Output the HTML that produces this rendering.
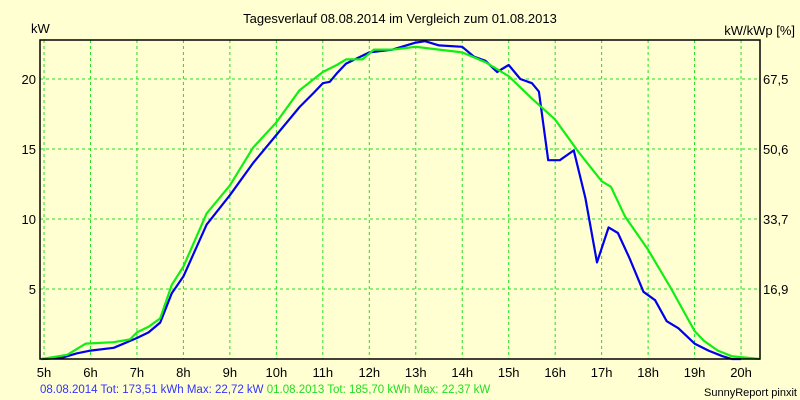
<!DOCTYPE html>
<html><head><meta charset="utf-8"><style>
body{margin:0;background:#FFFFD2;}
svg{display:block;font-family:"Liberation Sans",sans-serif;}
</style></head><body>
<svg id="chart" width="800" height="400" xmlns="http://www.w3.org/2000/svg">
<rect width="800" height="400" fill="#FFFFD2"/>
<text x="400" y="23" text-anchor="middle" font-size="13" fill="#000">Tagesverlauf 08.08.2014 im Vergleich zum 01.08.2013</text>
<text x="31" y="33" font-size="13" fill="#000">kW</text>
<text x="795" y="35" text-anchor="end" font-size="13" fill="#000">kW/kWp [%]</text>
<g id="grid"></g>
<g id="ticks"></g>
<g id="series"></g>
<rect x="40" y="40" width="720" height="319" fill="none" stroke="#000" stroke-width="1.5"/>
<text x="40" y="393" font-size="11.5"><tspan fill="#3333ff">08.08.2014 Tot: 173,51 kWh Max: 22,72 kW </tspan><tspan fill="#22dd22">01.08.2013 Tot: 185,70 kWh Max: 22,37 kW</tspan></text>
<text x="797" y="396" text-anchor="end" font-size="11" fill="#000">SunnyReport pinxit</text>
</svg>
<script>
const hourTicks=[5,6,7,8,9,10,11,12,13,14,15,16,17,18,19,20];
const kwTicks=[5,10,15,20];
const pctLabels=["16,9","33,7","50,6","67,5"];
const blueHours=[4.95,5.4,5.7,6,6.5,7,7.25,7.5,7.75,8,8.5,9,9.5,10,10.5,10.8,11,11.15,11.3,11.5,11.75,12,12.5,13,13.2,13.5,14,14.25,14.5,14.75,15,15.25,15.5,15.65,15.85,16.1,16.4,16.65,16.9,17.15,17.35,17.6,17.9,18.15,18.4,18.65,19,19.3,19.6,19.8,20];
const blueKw=[0,0.1,0.4,0.6,0.8,1.5,1.9,2.6,4.7,5.9,9.6,11.7,14.0,16.0,18.0,19.0,19.7,19.8,20.4,21.1,21.5,21.9,22.1,22.6,22.7,22.4,22.3,21.6,21.3,20.5,21.0,20.0,19.7,19.1,14.2,14.2,14.9,11.5,6.9,9.4,9.0,7.2,4.8,4.2,2.7,2.2,1.1,0.6,0.2,0,0];
const greenHours=[4.95,5.5,5.9,6.5,6.85,7,7.25,7.5,7.75,8,8.5,9,9.5,10,10.5,11,11.3,11.5,11.85,12.1,12.5,13,13.5,14,14.5,15,15.5,16,16.5,17,17.2,17.5,18,18.5,19,19.2,19.5,19.8,20.4];
const greenKw=[0,0.3,1.1,1.2,1.4,1.9,2.3,2.9,5.3,6.6,10.4,12.4,15.1,16.9,19.2,20.5,21.0,21.4,21.4,22.1,22.1,22.3,22.1,21.9,21.2,20.2,18.6,17.1,14.8,12.7,12.3,10.2,7.8,5.0,2.0,1.3,0.6,0.2,0];
const X0=44,PXH=46.47,Y0=359,PXK=14;
function sx(h){return X0+(h-5)*PXH;}
function sy(k){return Y0-k*PXK;}
const NS="http://www.w3.org/2000/svg";
const grid=document.getElementById('grid'),ticks=document.getElementById('ticks'),series=document.getElementById('series');
hourTicks.forEach(h=>{
 const l=document.createElementNS(NS,'line');
 l.setAttribute('x1',sx(h));l.setAttribute('x2',sx(h));l.setAttribute('y1',40);l.setAttribute('y2',359);
 l.setAttribute('stroke','#22dd22');l.setAttribute('stroke-dasharray','3,3');
 
 
 grid.appendChild(l);
 const t=document.createElementNS(NS,'text');
 t.setAttribute('x',sx(h));t.setAttribute('y',377);t.setAttribute('text-anchor','middle');t.setAttribute('font-size','13');
 t.textContent=h+'h';
 
 
 ticks.appendChild(t);
});
kwTicks.forEach((k,i)=>{
 const l=document.createElementNS(NS,'line');
 l.setAttribute('x1',40);l.setAttribute('x2',760);l.setAttribute('y1',sy(k));l.setAttribute('y2',sy(k));
 l.setAttribute('stroke','#22dd22');l.setAttribute('stroke-dasharray','3,3');
 
 
 grid.appendChild(l);
 const t=document.createElementNS(NS,'text');
 t.setAttribute('x',36);t.setAttribute('y',sy(k)+5);t.setAttribute('text-anchor','end');t.setAttribute('font-size','13');
 t.textContent=k;
 
 
 ticks.appendChild(t);
 const r=document.createElementNS(NS,'text');
 r.setAttribute('x',763);r.setAttribute('y',sy(k)+5);r.setAttribute('font-size','13');
 r.textContent=pctLabels[i];
 
 
 ticks.appendChild(r);
});
function line(hs,ks,color,name){
 const p=document.createElementNS(NS,'polyline');
 p.setAttribute('points',hs.map((h,i)=>sx(h)+','+sy(ks[i])).join(' '));
 p.setAttribute('fill','none');p.setAttribute('stroke',color);p.setAttribute('stroke-width','2.2');p.setAttribute('stroke-linejoin','round');
 
 
 series.appendChild(p);
}
line(blueHours,blueKw,'#0000ee','series-2014-line');
line(greenHours,greenKw,'#11ee11','series-2013-line');
</script>
</body></html>
